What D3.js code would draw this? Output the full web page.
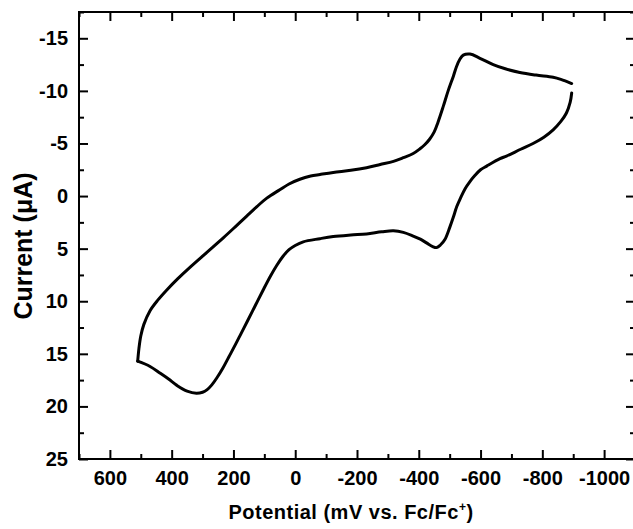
<!DOCTYPE html>
<html>
<head>
  <meta charset="utf-8">
  <style>
    body { margin: 0; background: #fff; }
    text { font-family: "Liberation Sans", Arial, sans-serif; font-weight: bold; }
    .axis text { font-size: 20px; fill: #000; }
    .axis line { stroke: #000; stroke-width: 2px; }
    .axis path { display: none; }
  </style>
</head>
<body>
  <script src="https://cdnjs.cloudflare.com/ajax/libs/d3/7.8.5/d3.min.js"></script>
  <svg width="633" height="529"></svg>
  <script>
    // upper branch: from the switching point back across to the positive end
    var upperPotential = [-895, -860, -835, -780, -727, -680, -641, -598, -566, -544, -533, -522, -512, -495, -479, -462, -450, -435, -420, -404, -382, -350, -318, -275, -231, -180, -123, -80, -50, -15, 20, 50, 92, 124, 157, 195, 232, 286, 340, 380, 415, 445, 470, 490, 500, 506, 510];
    var upperCurrent   = [-10.7, -11.1, -11.3, -11.5, -11.75, -12.1, -12.5, -13.1, -13.5, -13.4, -13.0, -12.3, -11.4, -10.0, -8.5, -7.0, -6.1, -5.4, -4.9, -4.5, -4.05, -3.65, -3.3, -3.0, -2.7, -2.45, -2.25, -2.05, -1.9, -1.6, -1.15, -0.6, 0.2, 1.0, 1.9, 2.95, 3.95, 5.35, 6.75, 7.85, 8.9, 9.9, 10.9, 12.2, 13.3, 14.5, 15.7];

    // lower branch, from the corner out to the negative end
    var lowerPotential = [510, 470, 437, 410, 383, 350, 320, 300, 285, 270, 254, 235, 215, 195, 175, 155, 130, 105, 80, 60, 40, 20, 0, -26, -80, -123, -180, -231, -280, -318, -350, -382, -405, -425, -445, -458, -470, -485, -500, -512, -523, -535, -550, -565, -580, -600, -620, -663, -684, -730, -770, -805, -835, -860, -878, -890, -895];
    var lowerCurrent   = [15.7, 16.2, 16.85, 17.4, 18.0, 18.55, 18.75, 18.65, 18.4, 17.95, 17.3, 16.4, 15.3, 14.2, 13.05, 11.9, 10.45, 9.0, 7.6, 6.6, 5.75, 5.1, 4.7, 4.35, 4.05, 3.85, 3.7, 3.6, 3.4, 3.3, 3.45, 3.8, 4.1, 4.45, 4.8, 4.9, 4.65, 4.1, 3.0, 2.0, 1.0, 0.2, -0.7, -1.35, -1.9, -2.5, -2.85, -3.55, -3.8, -4.45, -5.0, -5.6, -6.3, -7.1, -7.9, -8.9, -9.8];

    var xTicks = [600, 400, 200, 0, -200, -400, -600, -800, -1000];
    var xMinor = [700, 500, 300, 100, -100, -300, -500, -700, -900, -1100];
    var yTicks = [-15, -10, -5, 0, 5, 10, 15, 20, 25];
    var yMinor = [-17.5, -12.5, -7.5, -2.5, 2.5, 7.5, 12.5, 17.5, 22.5];

    var svg = d3.select("svg"),
        margin = {top: 12, right: -2, bottom: 70, left: 79},
        width = +svg.attr("width") - margin.left - margin.right,
        height = +svg.attr("height") - margin.top - margin.bottom;

    var x = d3.scaleLinear().domain([700, -1100]).range([0, width]),
        y = d3.scaleLinear().domain([-17.5, 25]).range([0, height]);

    var g = svg.append("g")
        .attr("transform", "translate(" + margin.left + "," + margin.top + ")");

    var fmt = function(d) { return String(d); };

    // major + minor ticks on all four sides, pointing in
    g.append("g").attr("class", "axis")
        .attr("transform", "translate(0," + height + ")")
        .call(d3.axisBottom(x).tickValues(xTicks).tickFormat(fmt).tickSizeInner(-9).tickSizeOuter(0).tickPadding(12));
    g.append("g").attr("class", "axis")
        .attr("transform", "translate(0," + height + ")")
        .call(d3.axisBottom(x).tickValues(xMinor).tickFormat("").tickSizeInner(-5).tickSizeOuter(0));
    g.append("g").attr("class", "axis")
        .call(d3.axisTop(x).tickValues(xTicks).tickFormat("").tickSizeInner(-9).tickSizeOuter(0));
    g.append("g").attr("class", "axis")
        .call(d3.axisTop(x).tickValues(xMinor).tickFormat("").tickSizeInner(-5).tickSizeOuter(0));

    g.append("g").attr("class", "axis")
        .call(d3.axisLeft(y).tickValues(yTicks).tickFormat(fmt).tickSizeInner(-9).tickSizeOuter(0).tickPadding(11));
    g.append("g").attr("class", "axis")
        .call(d3.axisLeft(y).tickValues(yMinor).tickFormat("").tickSizeInner(-5).tickSizeOuter(0));
    g.append("g").attr("class", "axis")
        .attr("transform", "translate(" + width + ",0)")
        .call(d3.axisRight(y).tickValues(yTicks).tickFormat("").tickSizeInner(-9).tickSizeOuter(0));
    g.append("g").attr("class", "axis")
        .attr("transform", "translate(" + width + ",0)")
        .call(d3.axisRight(y).tickValues(yMinor).tickFormat("").tickSizeInner(-5).tickSizeOuter(0));

    // frame
    g.append("rect")
        .attr("width", width).attr("height", height)
        .attr("fill", "none").attr("stroke", "#000").attr("stroke-width", 2);

    var line = d3.line()
        .x(function(d) { return x(d[0]); })
        .y(function(d) { return y(d[1]); })
        .curve(d3.curveCatmullRom.alpha(0.5));

    var upper = d3.zip(upperPotential, upperCurrent),
        lower = d3.zip(lowerPotential, lowerCurrent);

    [upper, lower].forEach(function(branch) {
      g.append("path")
          .datum(branch)
          .attr("fill", "none")
          .attr("stroke", "#000")
          .attr("stroke-width", 3)
          .attr("stroke-linejoin", "round")
          .attr("stroke-linecap", "round")
          .attr("d", line);
    });

    // axis titles
    var xt = svg.append("text")
        .attr("x", 351).attr("y", 519)
        .attr("text-anchor", "middle")
        .attr("font-size", 20)
        .attr("letter-spacing", 0.5);
    xt.append("tspan").text("Potential (mV vs. Fc/Fc");
    xt.append("tspan").attr("font-size", 12).attr("dy", -8).text("+");
    xt.append("tspan").attr("dy", 8).text(")");

    svg.append("text")
        .attr("transform", "translate(32,246) rotate(-90)")
        .attr("text-anchor", "middle")
        .attr("font-size", 25)
        .text("Current (\u03bcA)");
  </script>
</body>
</html>
